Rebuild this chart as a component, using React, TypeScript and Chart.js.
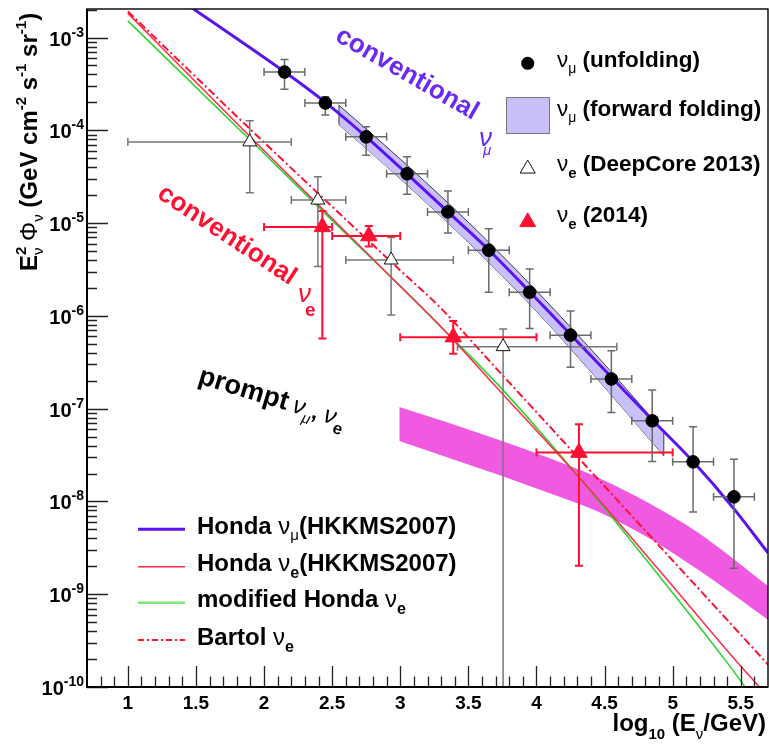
import React, { useEffect, useRef } from 'react';
import { Chart, registerables } from 'chart.js';

Chart.register(...registerables);

const FONT = '"Liberation Sans", Arial, Helvetica, sans-serif';

// ---------- axes ----------
const X_MIN = 0.7;
const X_MAX = 5.7;
const Y_MIN = 1e-10;
const Y_MAX = 2.03e-3;
const xMajorTicks = [1, 1.5, 2, 2.5, 3, 3.5, 4, 4.5, 5, 5.5];
const xTickLabels = ['1', '1.5', '2', '2.5', '3', '3.5', '4', '4.5', '5', '5.5'];
const yDecades = [1e-10, 1e-9, 1e-8, 1e-7, 1e-6, 1e-5, 1e-4, 1e-3];
const yTickExponents = ['-10', '-9', '-8', '-7', '-6', '-5', '-4', '-3'];

// ---------- model curves ----------
const hondaNumuX = [1.45, 2.15, 2.45, 2.75, 3.05, 3.35, 3.65, 3.95, 4.25, 4.55, 4.85, 5.15, 5.45, 5.7];
const hondaNumuY = [2.19e-3, 4.27e-4, 2.0e-4, 8.51e-5, 3.39e-5, 1.32e-5, 5.13e-6, 1.82e-6, 6.31e-7, 2.19e-7, 7.59e-8, 2.69e-8, 8.32e-9, 2.79e-9];

const hondaNueX = [1.0, 2.0, 2.5, 3.0, 3.3, 3.726, 4.312, 4.9, 5.46, 5.7];
const hondaNueY = [1.82e-3, 6.03e-5, 1.12e-5, 2.09e-6, 7.59e-7, 1.58e-7, 1.82e-8, 1.82e-9, 1.95e-10, 7.9e-11];

const modHondaNueX = [1.0, 2.0, 2.5, 3.0, 3.3, 3.726, 4.312, 4.9, 5.385, 5.7];
const modHondaNueY = [1.51e-3, 5.62e-5, 1.07e-5, 2.09e-6, 7.59e-7, 1.76e-7, 1.82e-8, 1.58e-9, 1.96e-10, 4.6e-11];

const bartolNueX = [1.0, 2.0, 3.0, 3.286, 3.726, 4.702, 5.58, 5.7];
const bartolNueY = [1.91e-3, 7.41e-5, 3.09e-6, 1.26e-6, 2.51e-7, 6.92e-9, 2.72e-10, 1.74e-10];

// ---------- bands ----------
const ffBandX = [2.55, 3.0, 3.5, 4.0, 4.5, 4.935];
const ffBandUpper = [1.86e-4, 4.9e-5, 1.02e-5, 1.86e-6, 3.0e-7, 5.6e-8];
const ffBandLower = [1.15e-4, 3.0e-5, 6.2e-6, 1.12e-6, 1.7e-7, 3.1e-8];

const promptX = [2.993, 3.359, 3.726, 4.092, 4.458, 4.824, 5.19, 5.7];
const promptUpper = [1.04e-7, 7.0e-8, 4.59e-8, 2.94e-8, 1.79e-8, 9.6e-9, 4.57e-9, 1.23e-9];
const promptLower = [4.49e-8, 2.94e-8, 1.93e-8, 1.23e-8, 7.7e-9, 4.04e-9, 1.82e-9, 5.3e-10];

// ---------- numu unfolding ----------
const numuX = [2.15, 2.45, 2.75, 3.05, 3.35, 3.65, 3.95, 4.25, 4.55, 4.85, 5.15, 5.45];
const numuXLo = [2.0, 2.3, 2.6, 2.9, 3.2, 3.5, 3.8, 4.1, 4.4, 4.7, 5.0, 5.3];
const numuXHi = [2.3, 2.6, 2.9, 3.2, 3.5, 3.8, 4.1, 4.4, 4.7, 5.0, 5.3, 5.6];
const numuY = [4.25e-4, 1.97e-4, 8.5e-5, 3.4e-5, 1.32e-5, 5.1e-6, 1.8e-6, 6.2e-7, 2.09e-7, 7.4e-8, 2.67e-8, 1.12e-8];
const numuYHi = [5.8e-4, 2.3e-4, 1.09e-4, 5.2e-5, 2.22e-5, 8.7e-6, 3.2e-6, 1.13e-6, 4.2e-7, 1.59e-7, 6.4e-8, 2.85e-8];
const numuYLo = [2.77e-4, 1.46e-4, 5.4e-5, 2.04e-5, 7.8e-6, 1.8e-6, 7.3e-7, 2.8e-7, 9.1e-8, 2.69e-8, 7.7e-9, 1.9e-9];

// ---------- nue DeepCore 2013 ----------
const deepX = [1.895, 2.395, 2.933, 3.755];
const deepXLo = [1.0, 2.2, 2.6, 3.42];
const deepXHi = [2.2, 2.6, 3.39, 4.59];
const deepY = [7.5e-5, 1.77e-5, 4.0e-6, 4.66e-7];
const deepYHi = [1.27e-4, 3.16e-5, 7.0e-6, 7.2e-7];
const deepYLo = [2.13e-5, 3.4e-6, 1.02e-6, 1e-12];

// ---------- nue 2014 ----------
const nue14X = [2.428, 2.769, 3.389, 4.312];
const nue14XLo = [2.0, 2.5, 3.0, 4.0];
const nue14XHi = [2.5, 3.0, 4.0, 5.0];
const nue14Y = [9.1e-6, 7.26e-6, 5.9e-7, 3.36e-8];
const nue14YHi = [1.35e-5, 9.3e-6, 8.8e-7, 6.8e-8];
const nue14YLo = [5.7e-7, 5.6e-6, 3.9e-7, 2.03e-9];

// ---------- colours ----------
const BLUE = '#5a14f0';
const PURPLE_TEXT = '#6a2af5';
const RED = '#ff1030';
const RED_LINE = '#ff2a4a';
const GREEN = '#2ed52e';
const LAVENDER = '#c8c0fa';
const MAGENTA = '#f05ae0';

const pts = (xs: number[], ys: number[]) => xs.map((x, i) => ({ x, y: ys[i] }));

const errorSets: any[] = [
  { label: 'numu', x: numuX, y: numuY, xLo: numuXLo, xHi: numuXHi, yLo: numuYLo, yHi: numuYHi, color: '#6a6a6a', width: 1.5, cap: 4 },
  { label: 'deep', x: deepX, y: deepY, xLo: deepXLo, xHi: deepXHi, yLo: deepYLo, yHi: deepYHi, color: '#777777', width: 1.5, cap: 4 },
  { label: 'nue14', x: nue14X, y: nue14Y, xLo: nue14XLo, xHi: nue14XHi, yLo: nue14YLo, yHi: nue14YHi, color: RED, width: 2, cap: 4 },
];

type Seg = [string, number, number?, any?];

function fnt(size: number, opt: any = {}) {
  const it = opt.italic ? 'italic ' : '';
  const b = opt.normal ? '' : 'bold ';
  return `${it}${b}${size}px ${FONT}`;
}

function richWidth(ctx: CanvasRenderingContext2D, segs: Seg[]) {
  let w = 0;
  for (const s of segs) {
    ctx.font = fnt(s[1], s[3] || {});
    if (!(s[3] && s[3].noAdvance)) w += ctx.measureText(s[0]).width + ((s[3] && s[3].dx) || 0);
  }
  return w;
}

function drawRich(ctx: CanvasRenderingContext2D, segs: Seg[], x: number, y: number, align: string, color: string) {
  const w = richWidth(ctx, segs);
  let cx = align === 'left' ? x : align === 'right' ? x - w : x - w / 2;
  ctx.textAlign = 'left';
  ctx.textBaseline = 'alphabetic';
  for (const s of segs) {
    const o = s[3] || {};
    ctx.font = fnt(s[1], o);
    ctx.fillStyle = o.color || color;
    cx += o.dx || 0;
    ctx.fillText(s[0], cx, y + (s[2] || 0));
    if (!o.noAdvance) cx += ctx.measureText(s[0]).width;
  }
}

function tri(ctx: CanvasRenderingContext2D, cx: number, cy: number, r: number, fill: string, stroke: string) {
  ctx.beginPath();
  ctx.moveTo(cx, cy - r);
  ctx.lineTo(cx + r * 0.866, cy + r * 0.5);
  ctx.lineTo(cx - r * 0.866, cy + r * 0.5);
  ctx.closePath();
  ctx.fillStyle = fill;
  ctx.fill();
  ctx.lineWidth = 1;
  ctx.strokeStyle = stroke;
  ctx.stroke();
}

const rootPlugin = {
  id: 'rootStyle',
  beforeDatasetDraw(chart: any, args: any) {
    const ds = chart.data.datasets[args.index];
    const set = errorSets.find((e) => e.label === ds.label);
    if (!set) return;
    const ctx: CanvasRenderingContext2D = chart.ctx;
    const xs = chart.scales.x;
    const ys = chart.scales.y;
    const a = chart.chartArea;
    ctx.save();
    ctx.beginPath();
    ctx.rect(a.left, a.top, a.right - a.left, a.bottom - a.top);
    ctx.clip();
    ctx.strokeStyle = set.color;
    ctx.lineWidth = set.width;
    const c = set.cap;
    for (let i = 0; i < set.x.length; i++) {
      const px = xs.getPixelForValue(set.x[i]);
      const py = ys.getPixelForValue(set.y[i]);
      const xl = xs.getPixelForValue(set.xLo[i]);
      const xh = xs.getPixelForValue(set.xHi[i]);
      const yl = ys.getPixelForValue(set.yLo[i]);
      const yh = ys.getPixelForValue(set.yHi[i]);
      ctx.beginPath();
      ctx.moveTo(xl, py); ctx.lineTo(xh, py);
      ctx.moveTo(xl, py - c); ctx.lineTo(xl, py + c);
      ctx.moveTo(xh, py - c); ctx.lineTo(xh, py + c);
      ctx.moveTo(px, yh); ctx.lineTo(px, yl);
      ctx.moveTo(px - c, yh); ctx.lineTo(px + c, yh);
      ctx.moveTo(px - c, yl); ctx.lineTo(px + c, yl);
      ctx.stroke();
    }
    ctx.restore();
  },
  afterDraw(chart: any) {
    const ctx: CanvasRenderingContext2D = chart.ctx;
    const xs = chart.scales.x;
    const ys = chart.scales.y;
    const a = chart.chartArea;
    ctx.save();

    // ticks
    ctx.strokeStyle = '#222';
    ctx.lineWidth = 1.3;
    ctx.beginPath();
    for (let k = 8; k <= 56; k++) {
      const v = k / 10;
      const px = Math.round(xs.getPixelForValue(v)) + 0.5;
      const major = k % 5 === 0;
      ctx.moveTo(px, a.bottom);
      ctx.lineTo(px, a.bottom - (major ? 21 : 10.5));
    }
    for (let e = -10; e <= -3; e++) {
      for (let m = 1; m <= 9; m++) {
        const v = m * Math.pow(10, e);
        if (v < Y_MIN * 0.999 || v > Y_MAX) continue;
        const py = Math.round(ys.getPixelForValue(v)) + 0.5;
        ctx.moveTo(a.left, py);
        ctx.lineTo(a.left + (m === 1 ? 21 : 10), py);
      }
    }
    ctx.stroke();

    // frame
    ctx.strokeStyle = '#000';
    ctx.lineWidth = 1.4;
    ctx.strokeRect(a.left, a.top, a.right - a.left, a.bottom - a.top);
    ctx.lineWidth = 2;
    ctx.beginPath();
    ctx.moveTo(a.left, a.top);
    ctx.lineTo(a.left, a.bottom);
    ctx.lineTo(a.right, a.bottom);
    ctx.stroke();

    // tick labels
    xMajorTicks.forEach((v, i) => {
      drawRich(ctx, [[xTickLabels[i], 19]], xs.getPixelForValue(v), a.bottom + 22, 'center', '#000');
    });
    yDecades.forEach((v, i) => {
      const py = ys.getPixelForValue(v);
      drawRich(ctx, [['10', 20], [yTickExponents[i], 14, -9]], a.left - 3, py + 8, 'right', '#000');
    });

    // axis titles
    drawRich(ctx, [['log', 24], ['10', 15, 8], [' (E', 24], ['ν', 15, 8, { normal: true }], ['/GeV)', 24]], 766, 731, 'right', '#000');
    ctx.save();
    ctx.translate(37, 142);
    ctx.rotate(-Math.PI / 2);
    drawRich(ctx, [
      ['E', 24], ['2', 15, -11, { noAdvance: true }], ['ν', 15, 6, { normal: true }],
      [' Φ', 24, 0, { normal: true }], ['ν', 15, 6, { normal: true }],
      [' (GeV cm', 24], ['-2', 15, -11], [' s', 24], ['-1', 15, -11], [' sr', 24], ['-1', 15, -11], [')', 24],
    ], 0, 0, 'center', '#000');
    ctx.restore();

    // top-right legend
    const lx = 527.7;
    const tx = 557;
    ctx.beginPath();
    ctx.arc(lx, 63.3, 6.5, 0, Math.PI * 2);
    ctx.fillStyle = '#000';
    ctx.fill();
    drawRich(ctx, [['ν', 22.5, 0, { normal: true }], ['μ', 14, 6, { normal: true }], [' (unfolding)', 22.5]], tx, 67, 'left', '#000');
    ctx.fillStyle = LAVENDER;
    ctx.fillRect(506, 97, 43, 36);
    ctx.strokeStyle = '#777';
    ctx.lineWidth = 1;
    ctx.strokeRect(506.5, 97.5, 43, 36);
    drawRich(ctx, [['ν', 22.5, 0, { normal: true }], ['μ', 14, 6, { normal: true }], [' (forward folding)', 22.5]], tx, 116, 'left', '#000');
    tri(ctx, lx, 168.7, 8.7, '#fff', '#111');
    drawRich(ctx, [['ν', 22.5, 0, { normal: true }], ['e', 15, 7], [' (DeepCore 2013)', 22.5]], tx, 170.5, 'left', '#000');
    tri(ctx, lx, 222, 9.2, RED, RED);
    drawRich(ctx, [['ν', 22.5, 0, { normal: true }], ['e', 15, 7], [' (2014)', 22.5]], tx, 222, 'left', '#000');

    // bottom-left legend
    const samples: any[] = [
      { y: 529.3, color: BLUE, w: 3, dash: [], text: [['Honda ', 24], ['ν', 24, 0, { normal: true }], ['μ', 15, 6, { normal: true }], ['(HKKMS2007)', 24]] },
      { y: 566.7, color: RED_LINE, w: 1.5, dash: [], text: [['Honda ', 24], ['ν', 24, 0, { normal: true }], ['e', 16, 7], ['(HKKMS2007)', 24]] },
      { y: 602.7, color: '#7be87b', w: 2.5, dash: [], text: [['modified Honda ', 24], ['ν', 24, 0, { normal: true }], ['e', 16, 7]] },
      { y: 640, color: RED, w: 2, dash: [6, 3, 2, 3], text: [['Bartol ', 24], ['ν', 24, 0, { normal: true }], ['e', 16, 7]] },
    ];
    for (const s of samples) {
      ctx.beginPath();
      ctx.setLineDash(s.dash);
      ctx.strokeStyle = s.color;
      ctx.lineWidth = s.w;
      ctx.moveTo(138, s.y);
      ctx.lineTo(185, s.y);
      ctx.stroke();
      ctx.setLineDash([]);
      drawRich(ctx, s.text, 197, s.y + 4.5, 'left', '#000');
    }

    // annotations
    ctx.save();
    ctx.translate(334, 40);
    ctx.rotate((30 * Math.PI) / 180);
    drawRich(ctx, [['conventional', 26]], 0, 0, 'left', PURPLE_TEXT);
    ctx.restore();
    drawRich(ctx, [['ν', 26, 0, { italic: true, normal: true }]], 479, 146, 'left', PURPLE_TEXT);
    drawRich(ctx, [['μ', 15, 0, { italic: true, normal: true }]], 483, 155, 'left', PURPLE_TEXT);

    ctx.save();
    ctx.translate(156, 197);
    ctx.rotate((33.5 * Math.PI) / 180);
    drawRich(ctx, [['conventional', 26]], 0, 0, 'left', RED);
    ctx.restore();
    drawRich(ctx, [['ν', 26, 0, { italic: true, normal: true }]], 298, 302, 'left', RED);
    drawRich(ctx, [['e', 19]], 305, 316, 'left', RED);

    ctx.save();
    ctx.translate(197, 383);
    ctx.rotate((17 * Math.PI) / 180);
    drawRich(ctx, [
      ['prompt', 27], ['  ', 10], ['ν', 24, 0, { italic: true, normal: true }], ['μ', 15, 7, { italic: true, normal: true }],
      [', ', 22], ['ν', 24, 0, { italic: true, normal: true }], ['e', 17, 8],
    ], 0, 0, 'left', '#000');
    ctx.restore();

    ctx.restore();
  },
};

export default function App() {
  const ref = useRef<HTMLCanvasElement>(null);
  useEffect(() => {
    document.body.style.margin = '0';
    const canvas = ref.current;
    if (!canvas) return;
    const line = (label: string, xs: number[], ys: number[], color: string, width: number, extra: any = {}) => ({
      label, data: pts(xs, ys), borderColor: color, borderWidth: width, pointRadius: 0, fill: false,
      cubicInterpolationMode: 'monotone', ...extra,
    });
    const datasets: any[] = [
      line('promptLower', promptX, promptLower, 'transparent', 1, { order: 20 }),
      line('promptUpper', promptX, promptUpper, 'transparent', 1, { fill: '-1', backgroundColor: MAGENTA, order: 19 }),
      line('ffLower', ffBandX, ffBandLower, '#3a3a3a', 1, { order: 18 }),
      line('ffUpper', ffBandX, ffBandUpper, '#3a3a3a', 1, { fill: '-1', backgroundColor: LAVENDER, order: 17 }),
      line('ffLeft', [ffBandX[0], ffBandX[0]], [ffBandLower[0], ffBandUpper[0]], '#3a3a3a', 1, { order: 16, cubicInterpolationMode: 'default', tension: 0 }),
      line('ffRight', [ffBandX[ffBandX.length - 1], ffBandX[ffBandX.length - 1]], [ffBandLower[ffBandLower.length - 1], ffBandUpper[ffBandUpper.length - 1]], '#3a3a3a', 1, { order: 16, cubicInterpolationMode: 'default', tension: 0 }),
      line('modHonda', modHondaNueX, modHondaNueY, GREEN, 1.6, { order: 10 }),
      line('hondaNue', hondaNueX, hondaNueY, RED_LINE, 1.5, { order: 9 }),
      line('bartol', bartolNueX, bartolNueY, RED, 2, { borderDash: [8, 3, 2, 3], order: 8 }),
      line('hondaNumu', hondaNumuX, hondaNumuY, BLUE, 3, { order: 7 }),
      { label: 'deep', data: pts(deepX, deepY), showLine: false, pointStyle: 'triangle', pointRadius: 8, backgroundColor: '#ffffff', borderColor: '#111', borderWidth: 1, order: 3 },
      { label: 'nue14', data: pts(nue14X, nue14Y), showLine: false, pointStyle: 'triangle', pointRadius: 9.5, backgroundColor: RED, borderColor: RED, borderWidth: 1, order: 2 },
      { label: 'numu', data: pts(numuX, numuY), showLine: false, pointStyle: 'circle', pointRadius: 6.3, backgroundColor: '#000', borderColor: '#000', borderWidth: 1, order: 1 },
    ];
    const chart = new Chart(canvas, {
      type: 'line',
      data: { datasets },
      options: {
        responsive: false,
        animation: false,
        events: [],
        layout: { autoPadding: false, padding: { left: 87, right: 1, top: 9, bottom: 59 } },
        plugins: { legend: { display: false }, tooltip: { enabled: false } },
        scales: {
          x: { type: 'linear', min: X_MIN, max: X_MAX, display: false },
          y: { type: 'logarithmic', min: Y_MIN, max: Y_MAX, display: false },
        },
      } as any,
      plugins: [rootPlugin as any],
    });
    return () => chart.destroy();
  }, []);
  return (
    <div style={{ position: 'absolute', left: 0, top: 0, width: 769, height: 746, background: '#fff' }}>
      <canvas ref={ref} width={769} height={746} style={{ width: 769, height: 746, display: 'block' }} />
    </div>
  );
}
